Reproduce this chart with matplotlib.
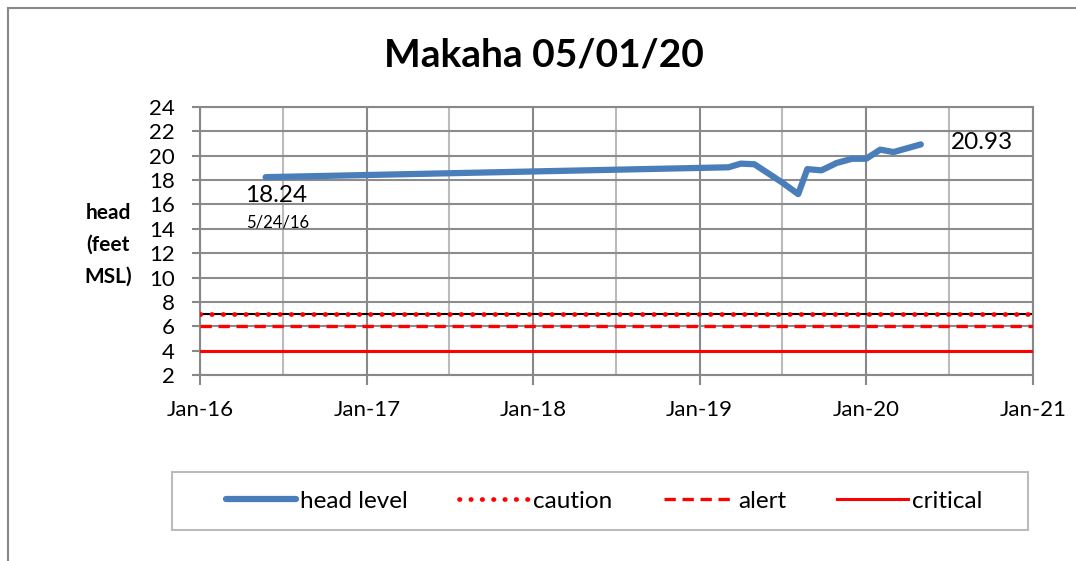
import numpy as np
import pandas as pd
import matplotlib
matplotlib.use("Agg")
import matplotlib.pyplot as plt
import matplotlib.dates as mdates
from matplotlib.patches import Rectangle

plt.rcParams["font.family"] = ["Lato", "DejaVu Sans"]

# head level readings (feet MSL)
dates = pd.to_datetime([
    "2016-05-24", "2019-03-05", "2019-04-01", "2019-05-01", "2019-07-01",
    "2019-08-05", "2019-08-25", "2019-09-25", "2019-10-28", "2019-12-01",
    "2020-01-01", "2020-02-01", "2020-03-01", "2020-04-30",
])
head = [18.24, 19.05, 19.35, 19.3, 17.8, 16.85, 18.9, 18.8, 19.4, 19.75,
        19.75, 20.5, 20.3, 20.93]

# threshold levels
caution_level = 7
alert_level = 6
critical_level = 4

x_start = pd.Timestamp("2016-01-01")
x_end = pd.Timestamp("2021-01-01")
year_ticks = pd.date_range("2016-01-01", "2021-01-01", freq="YS")
half_years = pd.date_range("2016-07-01", "2020-07-01", freq="12MS")
y_ticks = np.arange(2, 25, 2)

W, H = 1076, 561
fig = plt.figure(figsize=(W / 100, H / 100), dpi=100)
# outer chart border (runs off the right and bottom edges)
fig.patches.append(Rectangle((8 / W, -0.1), 1.2, 1.1 - 8 / H,
                             transform=fig.transFigure, fill=False,
                             edgecolor="#888888", linewidth=1.5))

ax = fig.add_axes([200 / W, (H - 375) / H, 833 / W, 268 / H])

# gridlines
for d in year_ticks:
    ax.axvline(d, color="#888888", linewidth=1.5, zorder=1)
for d in half_years:
    ax.axvline(d, color="#bbbbbb", linewidth=1.5, zorder=1)
for y in y_ticks:
    ax.axhline(y, color="#8c8c8c", linewidth=1.5, zorder=1)
ax.axhline(caution_level, color="black", linewidth=1.5, zorder=2)

ax.plot([x_start, x_end], [critical_level] * 2, color="red", linewidth=2.2,
        label="critical", zorder=3)
ax.plot([x_start, x_end], [alert_level] * 2, color="red", linewidth=2.4,
        linestyle=(0, (3.4, 2.0)), label="alert", zorder=3)
ax.plot([x_start, x_end], [caution_level] * 2, color="red", linewidth=3.4,
        linestyle=(0, (0.1, 2.3)), dash_capstyle="round", label="caution", zorder=3)
ax.plot(dates, head, color="#4a7ebb", linewidth=4.5, solid_capstyle="round",
        solid_joinstyle="round", label="head level", zorder=4)

ax.set_xlim(x_start, x_end)
ax.set_ylim(2, 24)
ax.set_xticks(year_ticks)
ax.xaxis.set_major_formatter(mdates.DateFormatter("%b-%y"))
ax.set_yticks(y_ticks)
ax.tick_params(axis="x", length=7, width=1.5, color="#888888", labelsize=16, pad=11)
ax.tick_params(axis="y", length=6, width=1.5, color="#888888", labelsize=16, pad=12)
for s in ax.spines.values():
    s.set_color("#888888")
    s.set_linewidth(1.5)

fig.text(108 / W, 1 - 245 / H, "head\n(feet\nMSL)", ha="center", va="center",
         fontsize=15, fontweight="bold", linespacing=1.75)

ax.annotate(f"{head[0]:.2f}", (dates[0], head[0]), xytext=(-21, -8),
            textcoords="offset pixels", fontsize=17.5, va="top", ha="left")
ax.annotate(dates[0].strftime("%-m/%-d/%y"), (dates[0], head[0]), xytext=(-20, -37),
            textcoords="offset pixels", fontsize=12, va="top", ha="left")
ax.annotate(f"{head[-1]:.2f}", (dates[-1], head[-1]), xytext=(30, 2),
            textcoords="offset pixels", fontsize=17.5, va="center", ha="left")

fig.text(544 / W, 1 - 55 / H, "Makaha 05/01/20", ha="center", va="center",
         fontsize=28, fontweight="bold")

# legend box
fig.patches.append(Rectangle((172 / W, 1 - 530 / H), 856 / W, 58 / H,
                             transform=fig.transFigure, fill=False,
                             edgecolor="#bbbbbb", linewidth=1.5))
handles, labels = ax.get_legend_handles_labels()
order = [3, 2, 1, 0]
fig.legend([handles[i] for i in order], [labels[i] for i in order],
           loc="center", bbox_to_anchor=(604 / W, 1 - 501 / H),
           ncol=4, fontsize=17.5, frameon=False,
           handlelength=2.9, columnspacing=2.1, handletextpad=0.16,
           borderaxespad=0)

fig.savefig("out.png", dpi=100)
